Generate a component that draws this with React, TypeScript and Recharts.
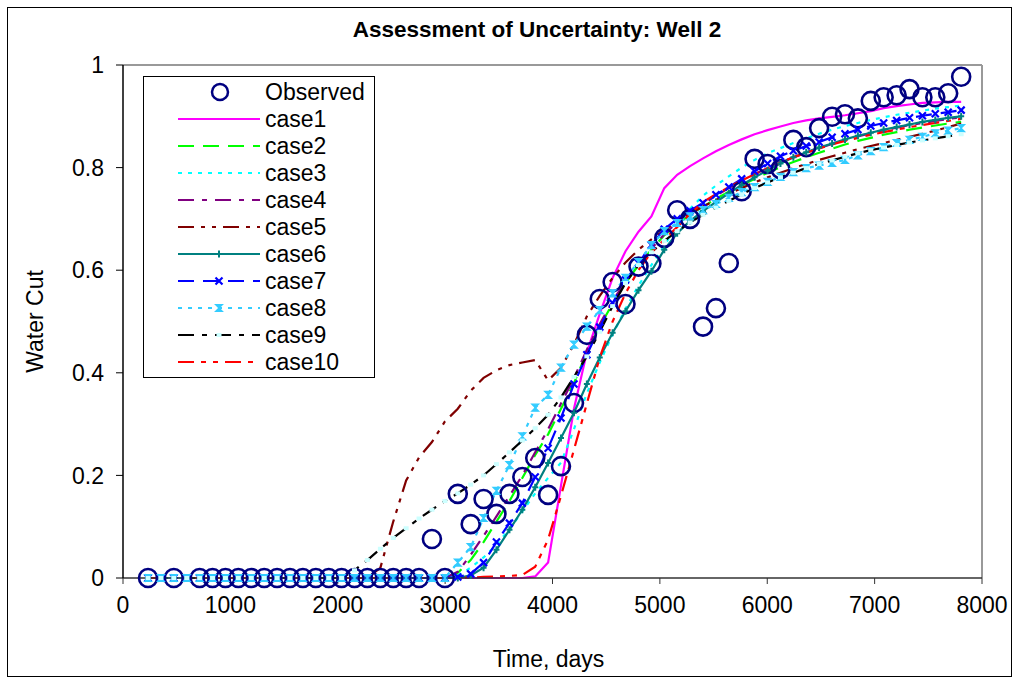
import React from "react";
import {
  ComposedChart,
  Line,
  Scatter,
  XAxis,
  YAxis,
  Legend,
  ReferenceLine,
} from "recharts";

const FONT = "'Liberation Sans', Arial, sans-serif";

// simulation output times (days)
const simDays = [
  233, 353, 473, 594, 714, 834, 954, 1074, 1195, 1315, 1435, 1555, 1675, 1796,
  1916, 2036, 2156, 2276, 2397, 2517, 2637, 2757, 2877, 2998, 3118, 3238, 3358,
  3478, 3599, 3719, 3839, 3959, 4079, 4200, 4320, 4440, 4560, 4680, 4801, 4921,
  5041, 5161, 5281, 5402, 5522, 5642, 5762, 5882, 6003, 6123, 6243, 6363, 6483,
  6604, 6724, 6844, 6964, 7084, 7205, 7325, 7445, 7565, 7685, 7806,
];

const case1 = [
  0, 0, 0, 0, 0, 0, 0, 0, 0, 0, 0, 0, 0, 0, 0, 0, 0, 0, 0, 0, 0, 0, 0, 0, 0, 0,
  0, 0, 0, 0, 0.003, 0.03, 0.18, 0.33, 0.44, 0.515, 0.585, 0.637, 0.675, 0.705,
  0.76, 0.786, 0.803, 0.818, 0.832, 0.844, 0.855, 0.865, 0.873, 0.88, 0.887,
  0.892, 0.896, 0.899, 0.902, 0.906, 0.91, 0.916, 0.92, 0.923, 0.926, 0.927,
  0.928, 0.928,
];
const case2 = [
  0, 0, 0, 0, 0, 0, 0, 0, 0, 0, 0, 0, 0, 0, 0, 0, 0, 0, 0, 0, 0, 0, 0, 0, 0.01,
  0.035, 0.07, 0.11, 0.15, 0.195, 0.24, 0.28, 0.33, 0.38, 0.44, 0.49, 0.535,
  0.575, 0.61, 0.64, 0.668, 0.69, 0.708, 0.724, 0.739, 0.753, 0.766, 0.778,
  0.79, 0.801, 0.811, 0.82, 0.829, 0.837, 0.845, 0.852, 0.858, 0.864, 0.869,
  0.874, 0.878, 0.882, 0.886, 0.889,
];
const case3 = [
  0, 0, 0, 0, 0, 0, 0, 0, 0, 0, 0, 0, 0, 0, 0, 0, 0, 0, 0, 0, 0, 0, 0, 0,
  0.005, 0.02, 0.04, 0.065, 0.095, 0.13, 0.165, 0.195, 0.225, 0.29, 0.36, 0.42,
  0.475, 0.525, 0.57, 0.61, 0.648, 0.688, 0.72, 0.745, 0.765, 0.783, 0.8,
  0.815, 0.828, 0.838, 0.848, 0.857, 0.866, 0.874, 0.881, 0.887, 0.893, 0.898,
  0.903, 0.907, 0.911, 0.915, 0.918, 0.921,
];
const case4 = [
  0, 0, 0, 0, 0, 0, 0, 0, 0, 0, 0, 0, 0, 0, 0, 0, 0, 0, 0, 0, 0, 0, 0, 0,
  0.012, 0.045, 0.082, 0.12, 0.16, 0.2, 0.245, 0.29, 0.34, 0.39, 0.445, 0.495,
  0.54, 0.578, 0.612, 0.642, 0.67, 0.693, 0.712, 0.729, 0.745, 0.76, 0.774,
  0.787, 0.799, 0.81, 0.82, 0.829, 0.838, 0.846, 0.854, 0.861, 0.867, 0.873,
  0.878, 0.883, 0.887, 0.891, 0.895, 0.898,
];
const case5 = [
  0, 0, 0, 0, 0, 0, 0, 0, 0, 0, 0, 0, 0, 0, 0, 0, 0, 0, 0.02, 0.11, 0.19,
  0.235, 0.265, 0.305, 0.33, 0.365, 0.39, 0.405, 0.415, 0.42, 0.425, 0.385,
  0.41, 0.455, 0.51, 0.55, 0.585, 0.615, 0.64, 0.66, 0.678, 0.695, 0.71, 0.724,
  0.737, 0.749, 0.76, 0.771, 0.781, 0.79, 0.799, 0.807, 0.815, 0.822, 0.829,
  0.836, 0.842, 0.848, 0.854, 0.86, 0.866, 0.872, 0.879, 0.886,
];
const case6 = [
  0, 0, 0, 0, 0, 0, 0, 0, 0, 0, 0, 0, 0, 0, 0, 0, 0, 0, 0, 0, 0, 0, 0, 0, 0,
  0.005, 0.02, 0.055, 0.094, 0.133, 0.177, 0.224, 0.273, 0.322, 0.378, 0.43,
  0.478, 0.52, 0.561, 0.598, 0.64, 0.672, 0.696, 0.715, 0.733, 0.75, 0.766,
  0.781, 0.795, 0.808, 0.82, 0.83, 0.839, 0.847, 0.855, 0.862, 0.868, 0.874,
  0.879, 0.884, 0.889, 0.893, 0.897, 0.9,
];
const case7 = [
  0, 0, 0, 0, 0, 0, 0, 0, 0, 0, 0, 0, 0, 0, 0, 0, 0, 0, 0, 0, 0, 0, 0, 0,
  0.002, 0.008, 0.03, 0.07, 0.107, 0.146, 0.197, 0.253, 0.312, 0.378, 0.435,
  0.489, 0.536, 0.581, 0.614, 0.649, 0.68, 0.7, 0.716, 0.731, 0.747, 0.762,
  0.778, 0.793, 0.808, 0.822, 0.833, 0.842, 0.85, 0.859, 0.866, 0.874, 0.881,
  0.887, 0.892, 0.897, 0.901, 0.905, 0.908, 0.912,
];
const case8 = [
  0, 0, 0, 0, 0, 0, 0, 0, 0, 0, 0, 0, 0, 0, 0, 0, 0, 0, 0, 0, 0, 0, 0, 0, 0.03,
  0.06, 0.117, 0.17, 0.22, 0.276, 0.332, 0.357, 0.41, 0.455, 0.49, 0.522,
  0.555, 0.585, 0.616, 0.649, 0.676, 0.692, 0.705, 0.717, 0.729, 0.741, 0.752,
  0.762, 0.772, 0.782, 0.791, 0.799, 0.804, 0.809, 0.815, 0.824, 0.832, 0.84,
  0.848, 0.854, 0.86, 0.867, 0.872, 0.877,
];
const case9 = [
  0, 0, 0, 0, 0, 0, 0, 0, 0, 0, 0, 0, 0, 0, 0, 0, 0.015, 0.035, 0.057, 0.078,
  0.097, 0.116, 0.133, 0.15, 0.165, 0.182, 0.2, 0.222, 0.245, 0.268, 0.292,
  0.318, 0.352, 0.392, 0.432, 0.48, 0.53, 0.575, 0.61, 0.635, 0.657, 0.676,
  0.693, 0.708, 0.722, 0.735, 0.748, 0.76, 0.771, 0.781, 0.79, 0.799, 0.807,
  0.814, 0.821, 0.828, 0.834, 0.839, 0.844, 0.849, 0.853, 0.857, 0.861, 0.865,
];
const case10 = [
  0, 0, 0, 0, 0, 0, 0, 0, 0, 0, 0, 0, 0, 0, 0, 0, 0, 0, 0, 0, 0, 0, 0, 0, 0,
  0.001, 0.002, 0.003, 0.004, 0.006, 0.022, 0.075, 0.16, 0.25, 0.34, 0.43, 0.5,
  0.555, 0.6, 0.635, 0.66, 0.684, 0.71, 0.733, 0.748, 0.762, 0.775, 0.787,
  0.799, 0.81, 0.82, 0.829, 0.837, 0.845, 0.852, 0.858, 0.864, 0.869, 0.874,
  0.879, 0.883, 0.887, 0.891, 0.895,
];

// observed water cut
const obsDays = [
  233, 473, 714, 834, 954, 1074, 1195, 1315, 1435, 1555, 1675, 1796, 1916,
  2036, 2156, 2276, 2397, 2517, 2637, 2757, 2877, 2998, 3118, 3238, 3358, 3478,
  3599, 3719, 3839, 3959, 4079, 4200, 4320, 4440, 4560, 4680, 4801, 4921, 5041,
  5161, 5281, 5402, 5522, 5642, 5762, 5882, 6003, 6123, 6243, 6363, 6483, 6604,
  6724, 6844, 6964, 7084, 7205, 7325, 7445, 7565, 7685, 7806,
];
const obsCut = [
  0, 0, 0, 0, 0, 0, 0, 0, 0, 0, 0, 0, 0, 0, 0, 0, 0, 0, 0, 0, 0.076, 0, 0.164,
  0.105, 0.154, 0.125, 0.164, 0.197, 0.234, 0.162, 0.218, 0.341, 0.474, 0.544,
  0.577, 0.534, 0.607, 0.613, 0.663, 0.717, 0.7, 0.49, 0.526, 0.614, 0.754,
  0.817, 0.807, 0.797, 0.854, 0.84, 0.877, 0.899, 0.904, 0.896, 0.93, 0.937,
  0.941, 0.953, 0.937, 0.937, 0.945, 0.977,
];

const caseNames = [
  "case1", "case2", "case3", "case4", "case5",
  "case6", "case7", "case8", "case9", "case10",
];
const xTicks = [0, 1000, 2000, 3000, 4000, 5000, 6000, 7000, 8000];
const yTicks = [0, 0.2, 0.4, 0.6, 0.8, 1];

const caseValues = [case1, case2, case3, case4, case5, case6, case7, case8, case9, case10];

const rows = simDays.map((day, i) => {
  const r: Record<string, number> = { day };
  caseValues.forEach((vals, j) => {
    r[caseNames[j]] = vals[i];
  });
  return r;
});
const obsData = obsDays.map((day, i) => ({ day, cut: obsCut[i] }));

type MarkerKind = "plus" | "cross" | "star" | "square" | undefined;

const seriesStyle: { color: string; dash?: string; marker?: MarkerKind }[] = [
  { color: "#FF00FF" },
  { color: "#00FF00", dash: "16 9" },
  { color: "#00FFFF", dash: "4 6" },
  { color: "#800080", dash: "16 8 5 8" },
  { color: "#800000", dash: "16 7 4 7 4 7" },
  { color: "#008080", marker: "plus" },
  { color: "#0000FF", dash: "16 9", marker: "cross" },
  { color: "#33CCFF", dash: "4 6", marker: "star" },
  { color: "#000000", dash: "16 8 5 8", marker: "square" },
  { color: "#FF0000", dash: "16 7 5 7 5 7" },
];

function Marker({ kind, cx, cy, color }: { kind: MarkerKind; cx: number; cy: number; color: string }) {
  if (cx == null || cy == null) return null;
  if (kind === "plus")
    return (
      <path
        d={`M${cx - 3},${cy}H${cx + 3}M${cx},${cy - 3.5}V${cy + 3.5}`}
        stroke={color}
        strokeWidth={2}
      />
    );
  if (kind === "cross")
    return (
      <path
        d={`M${cx - 3.5},${cy - 3.5}L${cx + 3.5},${cy + 3.5}M${cx + 3.5},${cy - 3.5}L${cx - 3.5},${cy + 3.5}`}
        stroke={color}
        strokeWidth={2.2}
      />
    );
  if (kind === "star")
    return (
      <path
        d={`M${cx - 3.5},${cy - 3.5}H${cx + 3.5}L${cx - 3.5},${cy + 3.5}H${cx + 3.5}Z`}
        fill={color}
        stroke={color}
        strokeWidth={1.2}
      />
    );
  if (kind === "square")
    return <rect x={cx - 2.5} y={cy - 2} width={5} height={4} fill="#CCFFFF" />;
  return null;
}

const LegendBox = () => {
  const rowY = (i: number) => 16 + 27 * i;
  return (
    <svg width={232} height={302} style={{ display: "block" }}>
      <rect x={0.5} y={0.5} width={231} height={301} fill="#fff" stroke="#000" />
      <circle cx={77} cy={rowY(0)} r={8} fill="none" stroke="#000080" strokeWidth={2.5} />
      <text x={122} y={rowY(0) + 8} fontSize={23} fontFamily={FONT} fill="#000">
        Observed
      </text>
      {caseNames.map((name, i) => {
        const s = seriesStyle[i];
        const y = rowY(i + 1);
        return (
          <g key={name}>
            <line x1={35} x2={117} y1={y} y2={y} stroke={s.color} strokeWidth={2} strokeDasharray={s.dash} />
            <Marker kind={s.marker} cx={76} cy={y} color={s.color} />
            <text x={122} y={y + 8} fontSize={23} fontFamily={FONT} fill="#000">
              {name}
            </text>
          </g>
        );
      })}
    </svg>
  );
};

export default function App() {
  return (
    <div
      style={{
        position: "absolute",
        left: 0,
        top: 0,
        width: 1015,
        height: 681,
        background: "#fff",
        fontFamily: FONT,
      }}
    >
      <div
        style={{
          position: "absolute",
          left: 7,
          top: 7,
          width: 1003,
          height: 668,
          border: "1.5px solid #000",
        }}
      />
      <div
        style={{
          position: "absolute",
          left: 287,
          top: 16,
          width: 500,
          textAlign: "center",
          fontSize: 22.5,
          fontWeight: "bold",
          lineHeight: "28px",
        }}
      >
        Assessment of Uncertainty: Well 2
      </div>
      <ComposedChart
        width={1015}
        height={681}
        data={rows}
        margin={{ top: 65, right: 33, bottom: 0, left: 0 }}
      >
        <XAxis
          type="number"
          dataKey="day"
          domain={[0, 8000]}
          ticks={xTicks}
          height={103}
          tickSize={6}
          tickMargin={13}
          axisLine={{ stroke: "#333", strokeWidth: 1.5 }}
          tickLine={{ stroke: "#333" }}
          tick={{ fill: "#000", fontSize: 23, fontFamily: FONT }}
          label={{
            value: "Time, days",
            position: "insideBottom",
            offset: 14,
            dx: -4,
            fill: "#000",
            fontSize: 23,
            fontFamily: FONT,
          }}
        />
        <YAxis
          type="number"
          domain={[0, 1]}
          ticks={yTicks}
          width={123}
          tickSize={7}
          tickMargin={12}
          axisLine={{ stroke: "#000", strokeWidth: 1.5 }}
          tickLine={{ stroke: "#000" }}
          tick={{ fill: "#000", fontSize: 23, fontFamily: FONT }}
          label={{
            value: "Water Cut",
            angle: -90,
            position: "insideLeft",
            offset: 35,
            textAnchor: "middle",
            fill: "#000",
            fontSize: 23,
            fontFamily: FONT,
          }}
        />
        <ReferenceLine y={1} stroke="#999" strokeWidth={2} />
        <ReferenceLine x={8000} stroke="#999" strokeWidth={2} />
        <Scatter
          data={obsData}
          dataKey="cut"
          isAnimationActive={false}
          shape={(p: any) => (
            <circle cx={p.cx} cy={p.cy} r={9} fill="none" stroke="#000080" strokeWidth={2.6} />
          )}
        />
        {caseNames.map((name, i) => {
          const s = seriesStyle[i];
          return (
            <Line
              key={name}
              type="linear"
              dataKey={name}
              stroke={s.color}
              strokeWidth={2.2}
              strokeDasharray={s.dash}
              activeDot={false}
              isAnimationActive={false}
              dot={
                s.marker
                  ? (p: any) => (
                      <Marker key={`${name}-${p.index}`} kind={s.marker} cx={p.cx} cy={p.cy} color={s.color} />
                    )
                  : false
              }
            />
          );
        })}
        <Legend
          layout="vertical"
          align="center"
          verticalAlign="middle"
          wrapperStyle={{ left: 143, top: 76, width: 232, height: 302 }}
          content={() => <LegendBox />}
        />
      </ComposedChart>
    </div>
  );
}
